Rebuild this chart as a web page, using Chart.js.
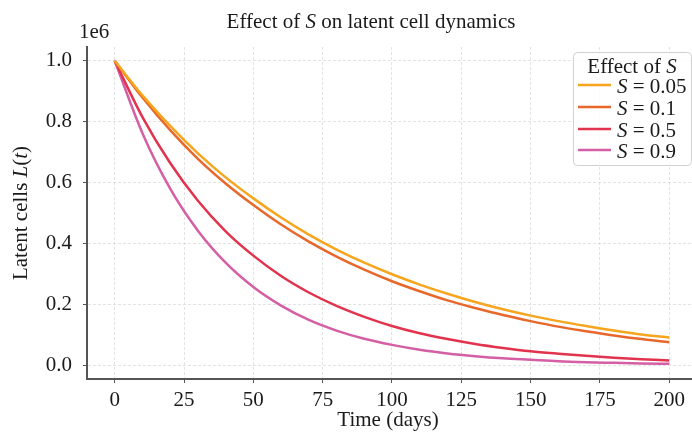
<!DOCTYPE html>
<html>
<head>
<meta charset="utf-8">
<script src="https://cdn.jsdelivr.net/npm/chart.js@4.4.0/dist/chart.umd.min.js"></script>
<style>
    html, body { margin: 0; padding: 0; background: #fff; }
</style>
</head>
<body>
<canvas id="myChart" width="692" height="433"></canvas>
<script>
// values (latent cells), every 10 days
const days = [0, 10, 20, 30, 40, 50, 60, 70, 80, 90, 100, 110, 120, 130, 140, 150, 160, 170, 180, 190, 200];
const latentS005 = [1000000, 886000, 786000, 696000, 617000, 548000, 485000, 429000, 380000, 337000, 299000,
                    265000, 235000, 208000, 184000, 163000, 145000, 129000, 114000, 101000, 91000];
const latentS01  = [1000000, 879000, 772000, 678000, 597000, 526000, 462000, 406000, 357000, 314000, 276000,
                    243000, 213000, 188000, 165000, 145000, 127000, 112000, 98000, 86000, 76000];
const latentS05  = [1000000, 815000, 664000, 540000, 440000, 360000, 293000, 239000, 195000, 159000, 129000,
                    105000, 86000, 70000, 57000, 46000, 38000, 31000, 25000, 20000, 16000];
const latentS09  = [1000000, 762000, 580000, 442000, 337000, 257000, 196000, 149000, 114000, 87000, 67000,
                    51000, 39000, 30000, 23000, 18000, 13000, 10000, 8000, 6000, 5000];

const seriesLabels = ['0.05', '0.1', '0.5', '0.9'];
const seriesColors = ['#f6a51d', '#e8682b', '#e2334e', '#d45fa4'];
const xTicks = [0, 25, 50, 75, 100, 125, 150, 175, 200];
const yTicks = [0, 200000, 400000, 600000, 800000, 1000000];

const serif = '"Liberation Serif", "Times New Roman", serif';
const textColor = '#1a1a1a';

function toPoints(values) {
    return values.map((v, i) => ({ x: days[i], y: v }));
}

// draw text made of plain/italic parts
function mixedText(ctx, parts, x, y, align) {
    const size = 21;
    let total = 0;
    const widths = parts.map(p => {
        ctx.font = (p[1] ? 'italic ' : '') + size + 'px ' + serif;
        const w = ctx.measureText(p[0]).width;
        total += w;
        return w;
    });
    let cx = x;
    if (align === 'center') cx = x - total / 2;
    ctx.textAlign = 'left';
    parts.forEach((p, i) => {
        ctx.font = (p[1] ? 'italic ' : '') + size + 'px ' + serif;
        ctx.fillText(p[0], cx, y);
        cx += widths[i];
    });
}

const textPlugin = {
    id: 'textPlugin',
    afterDraw(chart) {
        const ctx = chart.ctx;
        ctx.save();
        ctx.fillStyle = textColor;
        ctx.textBaseline = 'alphabetic';

        // title
        mixedText(ctx, [['Effect of ', false], ['S', true], [' on latent cell dynamics', false]], 371, 28, 'center');

        // offset text
        ctx.font = '21px ' + serif;
        ctx.textAlign = 'left';
        ctx.fillText('1e6', 79, 38);

        // x axis title
        mixedText(ctx, [['Time (days)', false]], 388, 426, 'center');

        // y axis title
        ctx.save();
        ctx.translate(27, 213);
        ctx.rotate(-Math.PI / 2);
        mixedText(ctx, [['Latent cells ', false], ['L', true], ['(', false], ['t', true], [')', false]], 0, 0, 'center');
        ctx.restore();

        // legend
        const bx = 573, by = 52, bw = 118, bh = 113;
        ctx.beginPath();
        ctx.roundRect(bx + 0.5, by + 0.5, bw, bh, 4);
        ctx.fillStyle = 'rgba(255,255,255,0.85)';
        ctx.fill();
        ctx.strokeStyle = '#d0d0d0';
        ctx.lineWidth = 1;
        ctx.stroke();

        ctx.fillStyle = textColor;
        mixedText(ctx, [['Effect of ', false], ['S', true]], 632, 73, 'center');

        const baselines = [93, 115, 137, 158];
        seriesLabels.forEach((lab, i) => {
            ctx.strokeStyle = seriesColors[i];
            ctx.lineWidth = 2.5;
            ctx.beginPath();
            ctx.moveTo(578, baselines[i] - 8);
            ctx.lineTo(611, baselines[i] - 8);
            ctx.stroke();
            ctx.fillStyle = textColor;
            mixedText(ctx, [['S', true], [' = ' + lab, false]], 617, baselines[i], 'left');
        });
        ctx.restore();
    }
};

const ctx = document.getElementById('myChart');

new Chart(ctx, {
    type: 'line',
    data: {
        datasets: [
            { label: 'S = 0.05', data: toPoints(latentS005), borderColor: seriesColors[0] },
            { label: 'S = 0.1', data: toPoints(latentS01), borderColor: seriesColors[1] },
            { label: 'S = 0.5', data: toPoints(latentS05), borderColor: seriesColors[2] },
            { label: 'S = 0.9', data: toPoints(latentS09), borderColor: seriesColors[3] }
        ].map(ds => Object.assign(ds, {
            borderWidth: 2.5,
            pointRadius: 0,
            fill: false,
            cubicInterpolationMode: 'monotone'
        }))
    },
    options: {
        responsive: false,
        animation: false,
        layout: { padding: { top: 47, left: 0, right: 0, bottom: 0 } },
        plugins: {
            legend: { display: false },
            title: { display: false },
            tooltip: { enabled: false }
        },
        scales: {
            x: {
                type: 'linear',
                min: -10,
                max: 208.2,
                afterFit: s => { s.height = 54; },
                afterBuildTicks: s => { s.ticks = xTicks.map(v => ({ value: v })); },
                grid: {
                    color: '#dcdcdc',
                    lineWidth: 0.8,
                    tickLength: 4,
                    tickColor: '#555',
                    tickWidth: 1,
                    tickBorderDash: []
                },
                border: { display: true, color: '#555', width: 2, dash: [3, 2] },
                ticks: {
                    color: textColor,
                    padding: 5,
                    maxRotation: 0,
                    font: { family: serif, size: 21 },
                    callback: v => String(v)
                }
            },
            y: {
                min: -45000,
                max: 1045000,
                afterFit: s => { s.width = 87; },
                afterBuildTicks: s => { s.ticks = yTicks.map(v => ({ value: v })); },
                grid: {
                    color: '#dcdcdc',
                    lineWidth: 0.8,
                    tickLength: 4,
                    tickColor: '#555',
                    tickWidth: 1,
                    tickBorderDash: []
                },
                border: { display: true, color: '#555', width: 2, dash: [3, 2] },
                ticks: {
                    color: textColor,
                    padding: 11,
                    font: { family: serif, size: 21 },
                    callback: v => (v / 1e6).toFixed(1)
                }
            }
        }
    },
    plugins: [textPlugin]
});
</script>
</body>
</html>
